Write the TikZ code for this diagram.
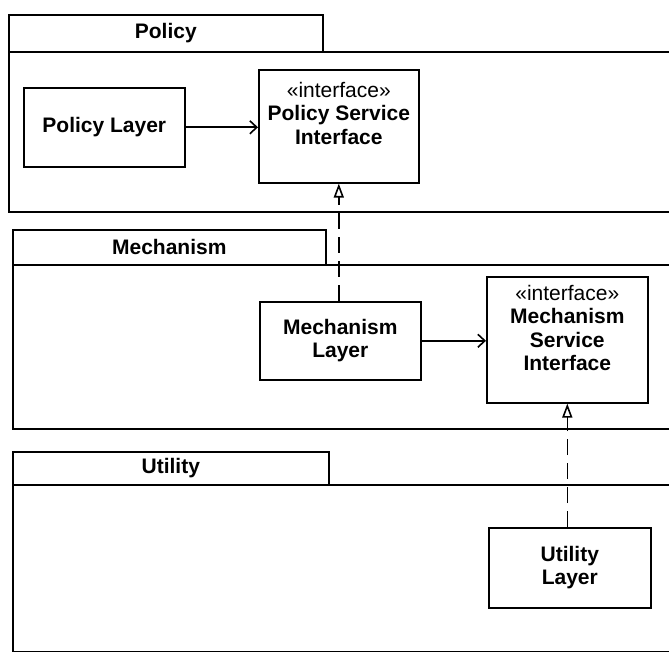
\documentclass[tikz,border=0pt]{standalone}
\usepackage{fontspec}
\setmainfont{Liberation Sans}
\usetikzlibrary{arrows.meta}

\tikzset{
  ink/.style={line width=1.6pt, draw=black},
  pkgtab/.style={ink, rectangle, anchor=north west, inner sep=0pt,
    font=\fontsize{21}{23.5}\selectfont\bfseries},
  pkgbody/.style={ink, rectangle, anchor=north west, inner sep=0pt},
  classbox/.style={ink, rectangle, anchor=north west, inner sep=0pt,
    align=center, font=\fontsize{21}{23.5}\selectfont\bfseries},
  classtext/.style={anchor=north, inner sep=0pt, align=center,
    font=\fontsize{21}{23.5}\selectfont\bfseries},
  uses/.style={ink, -{Straight Barb[length=7pt,width=13pt,line width=1.6pt]}},
  realizes/.style={ink, dash pattern=on 16pt off 8pt,
    -{Triangle[open,length=14pt,width=10pt,line width=1.6pt]}}
}
\newcommand{\stereo}[1]{{\mdseries\guillemotleft #1\guillemotright}}

\begin{document}
\begin{tikzpicture}[x=1pt,y=-1pt]
\useasboundingbox (0,0) rectangle (669,652);
\clip (0,0) rectangle (669,652);

% Policy package
\node[pkgtab, minimum width=314pt, minimum height=37pt] (poltab) at (8,14) {Policy};
\node[pkgbody, minimum width=700pt, minimum height=160pt] (polbody) at (8,51) {};
\node[classbox, minimum width=161pt, minimum height=79pt] (pl) at (23,87) {Policy Layer};
\node[classbox, minimum width=160pt, minimum height=113pt] (psi) at (258,69) {};
\node[classtext] (psitext) at ([yshift=-13pt]psi.north)
  {\stereo{interface}\\Policy Service\\Interface};

% Mechanism package
\node[pkgtab, minimum width=313pt, minimum height=35pt] (mectab) at (12,229) {Mechanism};
\node[pkgbody, minimum width=700pt, minimum height=164pt] (mecbody) at (12,264) {};
\node[classbox, minimum width=161pt, minimum height=78pt] (ml) at (259,301) {Mechanism\\Layer};
\node[classbox, minimum width=161pt, minimum height=126pt] (msi) at (486,276) {};
\node[classtext] (msitext) at ([yshift=-9pt]msi.north)
  {\stereo{interface}\\Mechanism\\Service\\Interface};

% Utility package
\node[pkgtab, minimum width=316pt, minimum height=33pt] (utltab) at (12,451) {Utility};
\node[pkgbody, minimum width=700pt, minimum height=167pt] (utlbody) at (12,484) {};
\node[classbox, minimum width=162pt, minimum height=80pt] (ul) at (488,527) {Utility\\Layer};

% dependencies on the service interfaces
\draw[uses] (pl.east) -- (pl.east -| psi.west);
\draw[uses] (ml.east) -- (ml.east -| msi.west);

% each lower layer realizes the interface above it
\draw[realizes] (ml.north -| psi.south) -- (psi.south);
\draw[realizes] (ul.north -| msi.south) -- (msi.south);
\end{tikzpicture}
\end{document}
